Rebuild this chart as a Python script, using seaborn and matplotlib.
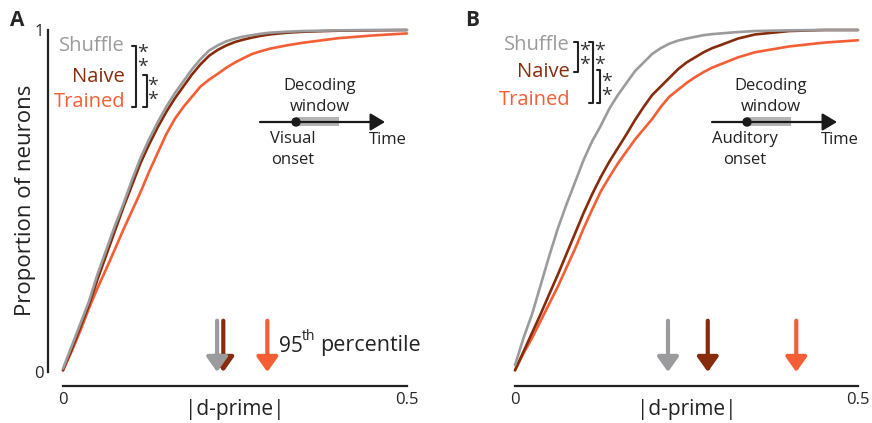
import numpy as np
import pandas as pd
import matplotlib
matplotlib.use("Agg")
import matplotlib.pyplot as plt
from matplotlib.lines import Line2D
from matplotlib.patches import Rectangle, FancyArrowPatch, Ellipse
import seaborn as sns

# ---------------- data ----------------
dprime = [0, 0.0125, 0.025, 0.0375, 0.05, 0.0625, 0.075, 0.0875, 0.1, 0.1125,
          0.125, 0.1375, 0.15, 0.1625, 0.175, 0.1875, 0.2, 0.2125, 0.225, 0.2375,
          0.25, 0.2625, 0.275, 0.2875, 0.3, 0.325, 0.35, 0.4, 0.45, 0.5]

a_shuffle = [0.01, 0.075, 0.14, 0.205, 0.285, 0.355, 0.425, 0.49, 0.56, 0.625,
             0.68, 0.73, 0.775, 0.815, 0.85, 0.885, 0.915, 0.94, 0.955, 0.967,
             0.975, 0.981, 0.985, 0.989, 0.992, 0.995, 0.997, 0.999, 1.0, 1.0]
a_naive = [0.005, 0.065, 0.13, 0.195, 0.27, 0.34, 0.41, 0.48, 0.545, 0.61,
           0.665, 0.715, 0.76, 0.80, 0.835, 0.87, 0.90, 0.925, 0.942, 0.955,
           0.965, 0.972, 0.978, 0.983, 0.987, 0.992, 0.995, 0.998, 0.999, 1.0]
a_trained = [0.005, 0.06, 0.12, 0.185, 0.245, 0.30, 0.357, 0.415, 0.47, 0.525,
             0.585, 0.64, 0.695, 0.74, 0.775, 0.805, 0.835, 0.855, 0.872, 0.89,
             0.905, 0.918, 0.93, 0.938, 0.945, 0.955, 0.963, 0.976, 0.984, 0.99]

b_shuffle = [0.02, 0.10, 0.17, 0.255, 0.34, 0.42, 0.49, 0.555, 0.62, 0.675,
             0.72, 0.77, 0.81, 0.845, 0.88, 0.905, 0.93, 0.947, 0.96, 0.969,
             0.975, 0.98, 0.985, 0.988, 0.99, 0.994, 0.997, 0.999, 1.0, 1.0]
b_naive = [0.005, 0.06, 0.115, 0.17, 0.228, 0.285, 0.345, 0.405, 0.465, 0.52,
           0.57, 0.615, 0.655, 0.695, 0.737, 0.775, 0.81, 0.835, 0.86, 0.885,
           0.905, 0.92, 0.935, 0.947, 0.956, 0.975, 0.987, 0.997, 1.0, 1.0]
b_trained = [0.005, 0.055, 0.10, 0.15, 0.20, 0.25, 0.305, 0.36, 0.42, 0.475,
             0.528, 0.57, 0.61, 0.645, 0.68, 0.71, 0.74, 0.775, 0.805, 0.825,
             0.845, 0.862, 0.877, 0.89, 0.90, 0.92, 0.935, 0.952, 0.963, 0.97]

groups = ["Shuffle", "Naive", "Trained"]
a_p95 = [0.224, 0.233, 0.297]
b_p95 = [0.223, 0.281, 0.41]

colors = {"Shuffle": "#9b9b9d", "Naive": "#862c0c", "Trained": "#f45e34"}

# ---------------- style ----------------
sns.set_style("white")
plt.rcParams["font.family"] = ["Open Sans", "DejaVu Sans"]

W, H = 872, 423
fig = plt.figure(figsize=(W / 100, H / 100), dpi=100)
TXT = "#222222"


def P(x, y):
    return (x / W, 1 - y / H)


def make_df(sh, nv, tr):
    n = len(dprime)
    return pd.DataFrame({
        "d": dprime * 3,
        "p": sh + nv + tr,
        "group": ["Shuffle"] * n + ["Naive"] * n + ["Trained"] * n,
    })


def panel(left_px, right_px, df, p95, show_y):
    x0, y0 = P(left_px, 372)
    ax = fig.add_axes([x0, y0, (right_px - left_px) / W, 342 / H])
    sns.lineplot(data=df, x="d", y="p", hue="group",
                 hue_order=["Trained", "Naive", "Shuffle"],
                 palette=colors, linewidth=1.9, legend=False, ax=ax,
                 estimator=None, sort=True)
    for ln in ax.lines:
        ln.set_clip_on(False)
        ln.set_solid_capstyle("round")
    for i in [1, 0, 2]:
        g = groups[i]
        ax.annotate("", xy=(p95[i], 0.0), xytext=(p95[i], 0.15),
                    arrowprops=dict(arrowstyle="-|>,head_length=0.45,head_width=0.32",
                                    color=colors[g], lw=3.0, mutation_scale=20,
                                    shrinkA=0, shrinkB=0), annotation_clip=False)
    ax.set_xlim(0, 0.5)
    ax.set_ylim(0, 1)
    ax.set_xticks([0, 0.5])
    ax.set_xticklabels(["0", "0.5"])
    ax.set_xlabel("")
    ax.spines["top"].set_visible(False)
    ax.spines["right"].set_visible(False)
    ax.spines["bottom"].set_position(("outward", 10.1))
    ax.spines["bottom"].set_linewidth(1.6)
    ax.spines["bottom"].set_color(TXT)
    ax.tick_params(axis="x", direction="in", length=4, width=1.6, color=TXT,
                   labelsize=12, pad=4)
    if show_y:
        ax.spines["left"].set_position(("outward", 10.8))
        ax.spines["left"].set_linewidth(1.6)
        ax.spines["left"].set_color(TXT)
        ax.set_yticks([0, 1])
        ax.set_yticklabels(["0", "1"])
        ax.tick_params(axis="y", direction="in", length=4, width=1.6, color=TXT,
                       labelsize=12, pad=3)
        ax.set_ylabel("")
    else:
        ax.spines["left"].set_visible(False)
        ax.set_yticks([])
        ax.set_ylabel("")
    ax.patch.set_alpha(0)
    xc = (left_px + right_px) / 2
    fig.text(*P(xc, 409), "|d-prime|", fontsize=15, ha="center", va="center", color=TXT)
    return ax


axA = panel(63, 407, make_df(a_shuffle, a_naive, a_trained), a_p95, True)
axB = panel(515, 858, make_df(b_shuffle, b_naive, b_trained), b_p95, False)

fig.text(*P(26, 200), "Proportion of neurons", fontsize=16, rotation=90,
         ha="center", va="center", color=TXT)

# panel letters
fig.text(*P(10, 20), "A", fontsize=15, fontweight="bold", va="center", ha="left")
fig.text(*P(465, 20), "B", fontsize=15, fontweight="bold", va="center", ha="left")

# group labels
for (xr, ys) in [(125, [46, 77, 102]), (570, [45, 72, 100])]:
    for g, yy in zip(groups, ys):
        fig.text(*P(xr, yy), g, color=colors[g], fontsize=14.5, ha="right", va="center")


def bracket(x, ytop, ybot, tick=4):
    xs = [x - tick, x, x, x - tick]
    ys = [ytop, ytop, ybot, ybot]
    pts = [P(a, b) for a, b in zip(xs, ys)]
    fig.add_artist(Line2D([p[0] for p in pts], [p[1] for p in pts],
                          color=TXT, lw=1.5, transform=fig.transFigure))


def stars(x, yc):
    fig.text(*P(x, yc + 3), "*\n*", fontsize=14, ha="center", va="center",
             color="#333333", linespacing=0.75)


# panel A brackets
bracket(136, 46, 107)
stars(143, 57)
bracket(147, 75, 107)
stars(153, 90)
# panel B brackets
bracket(578, 42, 72)
stars(585, 55)
bracket(593, 42, 103)
stars(600, 55)
bracket(600, 70, 103, tick=3)
stars(607, 86)


def timeline(x0, xdot, xwin, xtip, onset_lbl, onset_x):
    y = 122
    fig.add_artist(Rectangle(P(xdot, 126), (xwin - xdot) / W, 9 / H,
                             transform=fig.transFigure, color="#b4b4b4", lw=0))
    fig.add_artist(FancyArrowPatch(
        P(x0, y), P(xtip, y), transform=fig.transFigure,
        arrowstyle="-|>,head_length=0.55,head_width=0.33",
        mutation_scale=16, color="#1a1a1a", lw=1.6, shrinkA=0, shrinkB=0))
    fig.add_artist(Ellipse(P(xdot, y), 8 / W, 8 / H,
                           transform=fig.transFigure, color="#1a1a1a"))
    xc = (xdot + xwin) / 2 + 2
    fig.text(*P(xc, 86), "Decoding", fontsize=12, ha="center", va="center", color=TXT)
    fig.text(*P(xc, 107), "window", fontsize=12, ha="center", va="center", color=TXT)
    fig.text(*P(onset_x, 139), onset_lbl, fontsize=12, ha="center", va="center", color=TXT)
    fig.text(*P(onset_x, 160), "onset", fontsize=12, ha="center", va="center", color=TXT)
    fig.text(*P(xtip + 3, 140), "Time", fontsize=12, ha="center", va="center", color=TXT)


timeline(260, 296, 339, 385, "Visual", 293)
timeline(712, 747, 791, 837, "Auditory", 745)

# 95th percentile
fig.text(*P(279, 346), "95", fontsize=15, ha="left", va="center", color=TXT)
fig.text(*P(302, 336), "th", fontsize=10, ha="left", va="center", color=TXT)
fig.text(*P(320, 346), "percentile", fontsize=15.5, ha="left", va="center", color=TXT)

fig.savefig("out.png", dpi=100)
